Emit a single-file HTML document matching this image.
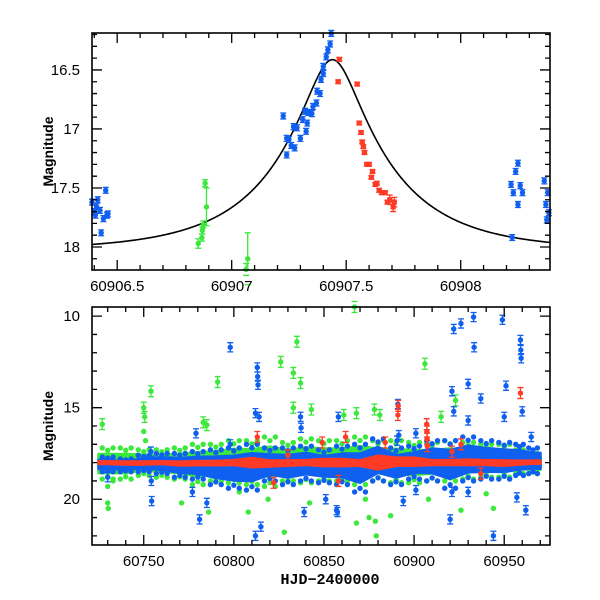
<!DOCTYPE html>
<html><head><meta charset="utf-8"><style>
body{margin:0;background:#fff;}
svg{display:block;font-family:"Liberation Sans",sans-serif;}
</style></head><body>
<svg id="chart" width="600" height="600" viewBox="0 0 600 600" xmlns="http://www.w3.org/2000/svg"></svg>
<script>
// ---- Top panel data (zoom on peak) ----
const topBlueT=[60906.39,60906.40,60906.41,60906.415,60906.425,60906.405,60906.44,60906.455,60906.46,60906.45,60906.43,
60907.225,60907.24,60907.24,60907.25,60907.26,60907.27,60907.275,60907.285,60907.30,60907.325,60907.31,60907.33,60907.32,60907.335,60907.35,60907.355,60907.37,60907.373,60907.386,60907.39,60907.40,60907.40,60907.413,60907.42,60907.43,60907.435,
60908.22,60908.23,60908.24,60908.25,60908.26,60908.27,60908.25,60908.225,60908.365,60908.38,60908.372,60908.376,60908.385];
const topBlueM=[17.62,17.70,17.66,17.60,17.69,17.73,17.76,17.73,17.72,17.52,17.88,
16.89,17.08,17.22,17.09,17.14,16.98,17.16,16.99,17.08,17.02,16.92,16.95,16.85,16.86,16.87,16.81,16.78,16.68,16.70,16.58,16.53,16.47,16.39,16.33,16.28,16.19,
17.47,17.54,17.36,17.29,17.48,17.54,17.64,17.92,17.44,17.54,17.64,17.77,17.71];
const topGreenT=[60906.854,60906.87,60906.872,60906.876,60906.89,60906.884,60907.063,60907.07];
const topGreenM=[17.97,17.92,17.86,17.81,17.66,17.46,18.19,18.10];
const topGreenE=[0.04,0.03,0.03,0.03,0.16,0.03,0.05,0.22];
const topRedT=[60907.47,60907.465,60907.548,60907.557,60907.565,60907.57,60907.575,60907.58,60907.59,60907.60,60907.61,60907.615,60907.627,60907.634,60907.644,60907.655,60907.67,60907.68,60907.69,60907.71,60907.705];
const topRedM=[16.41,16.60,16.62,16.95,17.03,17.11,17.15,17.20,17.30,17.30,17.41,17.36,17.47,17.46,17.52,17.54,17.54,17.62,17.60,17.62,17.66];
// model parameters (Paczynski)
const modelT0=[60907.44], modelU0=[0.23], modelTE=[0.49], modelBase=[18.03];

// ---- Bottom panel data ----
const binStart=[60725,60735,60745,60755,60765,60775,60785,60795,60805,60815,60825,60835,60845,60855,60865,60875,60885,60895,60905,60915,60925,60935,60945,60955,60962];
const binEnd=[60735,60745,60755,60765,60775,60785,60795,60805,60815,60825,60835,60845,60855,60865,60875,60885,60895,60905,60915,60925,60935,60945,60955,60962,60970];
const greenLo=[17.2,17.2,17.3,17.3,17.2,17.0,17.0,16.8,16.8,16.6,16.9,16.7,16.8,16.8,16.6,16.8,16.8,16.9,16.9,16.8,16.9,17.0,17.0,17.3,17.5];
const greenHi=[18.9,18.9,18.7,18.8,18.9,19.2,19.0,19.1,19.2,19.3,19.0,19.1,19.0,19.0,19.2,19.0,19.1,19.1,19.0,19.0,18.9,18.8,18.8,18.6,18.6];
const blueLo=[17.7,17.8,17.6,17.5,17.5,17.4,17.3,17.2,17.0,17.2,17.2,17.1,17.3,17.1,17.0,16.7,17.2,17.1,16.8,16.8,16.6,16.8,16.9,17.0,17.2];
const blueHi=[18.5,18.5,18.5,18.6,18.8,18.9,19.2,19.4,19.5,19.0,19.2,19.0,19.1,19.2,19.6,19.0,19.2,18.9,19.0,19.4,19.0,18.9,18.9,18.7,18.6];
const redLo=[17.9,17.9,17.9,17.9,17.9,17.85,17.85,17.8,17.6,17.8,17.8,17.8,17.7,17.7,17.8,17.4,17.6,17.6,17.8,17.8,17.75,17.8,17.8,17.85,17.85];
const redHi=[18.1,18.15,18.15,18.1,18.2,18.2,18.2,18.2,18.4,18.3,18.25,18.2,18.3,18.3,18.25,18.6,18.3,18.3,18.2,18.2,18.2,18.2,18.25,18.15,18.1];

const outGreenT=[60727,60754,60750,60750.5,60791,60826,60835,60833,60837,60833,60843,60783,60785,60730,60730.3,60828,60786,60808,60803,60819,60771,60906,60867,60878,60881,60915,60923,60868,60879,60878.5,60875,60887,60908,60926,60944,60842,60940,60873,60861,60868,60750,60751,60730,60733];
const outGreenM=[15.9,14.1,15.0,15.5,13.6,12.5,11.4,13.1,13.65,15.0,15.1,15.8,15.95,20.2,20.5,21.8,20.7,20.7,19.6,20.0,20.2,12.6,9.5,15.1,15.4,15.5,14.6,21.3,22.0,21.2,21.0,20.9,20.0,20.6,20.5,20.2,19.7,20.0,15.4,15.3,16.3,16.8,19.3,19.0];
const outBlueT=[60798,60813,60813.2,60813.4,60812,60814,60779,60837,60837.3,60754,60754.2,60754.4,60781,60815,60812,60839,60851,60857,60785,60777,60730,60798,60933,60949,60922,60926,60959,60959.2,60959.4,60933.3,60930,60951,60921,60937,60922,60960,60930,60950,60891,60858,60901,60965,60857.5,60920,60944,60962,60957,60930,60894,60901,60921,60891.5,60890.5];
const outBlueM=[11.7,12.8,13.3,13.75,15.3,15.5,16.4,15.5,16.1,17.4,19.0,20.1,21.1,21.5,22.0,20.7,20.0,20.6,20.2,19.6,18.8,17.0,10.05,10.2,10.7,10.4,11.3,11.85,12.3,11.7,13.7,13.8,14.1,14.5,15.2,15.2,15.7,15.5,14.8,15.5,16.4,16.6,20.7,21.1,22.0,20.6,19.9,19.6,20.1,19.5,19.6,16.5,16.8];
const outRedT=[60959,60891,60891.2,60907,60907.1,60907.2,60907.3,60862,60884,60849,60813,60830,60822,60858,60937,60926,60921];
const outRedM=[14.2,15.4,14.9,15.9,16.3,16.7,17.1,16.6,16.9,16.9,16.6,17.6,19.1,19.0,18.6,17.0,17.4];

const C={blue:"#0f5ff0",green:"#3be83b",red:"#ff3b26"};
const svgEl=document.getElementById('chart');
const NS="http://www.w3.org/2000/svg";
function mk(tag,attrs,parent){const e=document.createElementNS(NS,tag);for(const k in attrs)e.setAttribute(k,attrs[k]);(parent||svgEl).appendChild(e);return e;}

const L=92,R=550;
const topP={y0:33,y1:270,tMin:60906.39,tMax:60908.39,mMin:16.187,mMax:18.195};
const botP={y0:307,y1:545,tMin:60721.3,tMax:60975.4,mMin:9.5,mMax:22.5};
const tx=(p,t)=>L+(t-p.tMin)/(p.tMax-p.tMin)*(R-L);
const my=(p,m)=>p.y0+(m-p.mMin)/(p.mMax-p.mMin)*(p.y1-p.y0);

function point(g,p,t,m,col,err,sq){
  const x=tx(p,t),y=my(p,m);
  if(x<L-1||x>R+1||y<p.y0-1||y>p.y1+1)return;
  if(err){const e=Math.abs(my(p,m+err)-y);
    mk('path',{d:`M${x},${Math.max(p.y0,y-e)}V${Math.min(p.y1,y+e)}M${x-3},${y-e}H${x+3}M${x-3},${y+e}H${x+3}`,stroke:col,'stroke-width':1.3,fill:'none'},g);
  }
  const c=sq?mk('rect',{x:x-2.6,y:y-2.6,width:5.2,height:5.2,fill:col},g):mk('circle',{cx:x,cy:y,r:2.7,fill:col},g);
  
  
}

function axes(p,xmaj,xmin,ymaj,ymin,xfmt,yfmt,name){
  const g=mk('g',{});
  mk('rect',{x:L,y:p.y0,width:R-L,height:p.y1-p.y0,fill:'none',stroke:'#000','stroke-width':1.6},g);
  let d='';
  const n0=Math.ceil(p.tMin/xmin-1e-6), n1=Math.floor(p.tMax/xmin+1e-6);
  for(let n=n0;n<=n1;n++){
    const t=n*xmin;const x=tx(p,t);const isMaj=Math.abs(t/xmaj-Math.round(t/xmaj))<1e-4;const len=isMaj?10:5;
    d+=`M${x},${p.y1}v${-len}M${x},${p.y0}v${len}`;
    if(isMaj){const tl=mk('text',{x:x,y:p.y1+21,'text-anchor':'middle','font-size':15},g);tl.textContent=xfmt(t);
      }
  }
  const k0=Math.ceil(p.mMin/ymin-1e-6), k1=Math.floor(p.mMax/ymin+1e-6);
  for(let k=k0;k<=k1;k++){
    const m=k*ymin;const y=my(p,m);const isMaj=Math.abs(m/ymaj-Math.round(m/ymaj))<1e-4;const len=isMaj?10:5;
    d+=`M${L},${y}h${len}M${R},${y}h${-len}`;
    if(isMaj){const tl=mk('text',{x:80,y:y+5,'text-anchor':'end','font-size':15},g);tl.textContent=yfmt(m);
      }
  }
  mk('path',{d:d,stroke:'#000','stroke-width':1.3,fill:'none'},g);
  const yl=mk('text',{x:0,y:0,transform:`translate(53,${(p.y0+p.y1)/2}) rotate(-90)`,'text-anchor':'middle','font-size':14,'font-weight':'bold'},g);
  yl.textContent='Magnitude';
}

// ---- top panel ----
const defs=mk('defs',{});
const cp=mk('clipPath',{id:'ct'},defs);
mk('rect',{x:L,y:topP.y0,width:R-L,height:topP.y1-topP.y0},cp);
const gTop=mk('g',{});
let md='';
for(let x=L;x<=R;x++){
  const t=topP.tMin+(x-L)/(R-L)*(topP.tMax-topP.tMin);
  const tau=(t-modelT0[0])/modelTE[0];const u=Math.sqrt(modelU0[0]**2+tau*tau);
  const A=(u*u+2)/(u*Math.sqrt(u*u+4));const m=modelBase[0]-2.5*Math.log10(A);
  md+=(x===L?'M':'L')+x+','+my(topP,m).toFixed(2);
}
mk('path',{d:md,stroke:'#000','stroke-width':1.6,fill:'none','clip-path':'url(#ct)',},gTop);
topGreenT.forEach((t,i)=>point(gTop,topP,t,topGreenM[i],C.green,topGreenE[i]));
topBlueT.forEach((t,i)=>point(gTop,topP,t,topBlueM[i],C.blue,0.025));
topRedT.forEach((t,i)=>point(gTop,topP,t,topRedM[i],C.red,i>17?0.04:0.015,true));
axes(topP,0.5,0.1,0.5,0.1,t=>(Math.round(t*10)/10).toString(),m=>(Math.round(m*10)/10).toString(),'top');

// ---- bottom panel ----
const gBot=mk('g',{});
function band(lo,hi,col,nm,core,dots){
  const up=[],dn=[];
  binStart.forEach((t0,i)=>{
    const mid=(lo[i]+hi[i])/2,half=(hi[i]-lo[i])/2*core;
    const xs=i===0?[t0,(t0+binEnd[i])/2]:(i===binStart.length-1?[(t0+binEnd[i])/2,binEnd[i]]:[(t0+binEnd[i])/2]);
    xs.forEach(t=>{up.push([tx(botP,t),my(botP,mid-half)]);dn.push([tx(botP,t),my(botP,mid+half)]);});
    if(dots){[2,5,8].forEach((o,j)=>{const t=t0+o*(binEnd[i]-t0)/10;
      const a=j===1?0.85:1.0;
      [mid-(hi[i]-lo[i])/2*a,mid+(hi[i]-lo[i])/2*a].forEach(m=>{
        const c=mk('circle',{cx:tx(botP,t),cy:my(botP,m),r:2.7,fill:col},gBot);
        
        
      });});}
  });
  const pts=up.concat(dn.reverse()).map(p=>p[0].toFixed(1)+','+p[1].toFixed(1)).join(' ');
  const pg=mk('polygon',{points:pts,fill:col,stroke:col,'stroke-width':3,'stroke-linejoin':'round'},gBot);
  
  
}
outGreenT.forEach((t,i)=>point(gBot,botP,t,outGreenM[i],C.green,outGreenM[i]<16?0.3:0));
band(greenLo,greenHi,C.green,'green-band',0.6,true);
band(blueLo,blueHi,C.blue,'blue-band',0.6,true);
outBlueT.forEach((t,i)=>point(gBot,botP,t,outBlueM[i],C.blue,0.25));
band(redLo,redHi,C.red,'red-band',0.6,false);
outRedT.forEach((t,i)=>point(gBot,botP,t,outRedM[i],C.red,0.3));
axes(botP,50,10,5,1,t=>Math.round(t).toString(),m=>Math.round(m).toString(),'bottom');
const xl=mk('text',{x:330,y:584,'text-anchor':'middle','font-size':15,'font-weight':'bold','font-family':'Liberation Mono, monospace'});
xl.textContent='HJD−2400000';


</script>
</body></html>
